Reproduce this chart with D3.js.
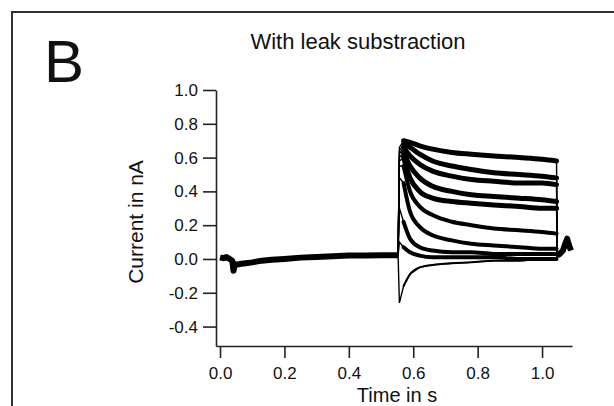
<!DOCTYPE html>
<html>
<head>
<meta charset="utf-8">
<script src="https://cdn.jsdelivr.net/npm/d3@7"></script>
<style>
  body { margin: 0; background: #fff; }
  text { font-family: "Liberation Sans", Arial, sans-serif; fill: #111; }
</style>
</head>
<body>
<div id="plot"></div>
<script>
// tick values
const xTicks = [0, 0.2, 0.4, 0.6, 0.8, 1.0];
const yTicks = [-0.4, -0.2, 0, 0.2, 0.4, 0.6, 0.8, 1.0];

// holding current before the step (time s, current nA)
const baseT = [0, 0.01, 0.02, 0.03, 0.038, 0.042, 0.046, 0.05, 0.06, 0.08, 0.1, 0.13, 0.16, 0.2, 0.25, 0.3, 0.35, 0.4, 0.45, 0.5, 0.553];
const baseI = [0.01, 0.005, 0.012, 0.0, -0.01, -0.07, -0.03, -0.035, -0.03, -0.025, -0.02, -0.01, -0.005, 0.0, 0.008, 0.012, 0.016, 0.02, 0.02, 0.022, 0.022];

// step currents, one array per trace, sampled at stepT
const stepT = [0.557, 0.57, 0.59, 0.62, 0.66, 0.72, 0.78, 0.85, 0.93, 1.0, 1.045];
const trace1 = [0.66, 0.70, 0.69, 0.67, 0.65, 0.63, 0.62, 0.61, 0.60, 0.59, 0.58];
const trace2 = [0.64, 0.68, 0.66, 0.62, 0.58, 0.55, 0.53, 0.51, 0.50, 0.49, 0.48];
const trace3 = [0.62, 0.66, 0.61, 0.56, 0.52, 0.49, 0.47, 0.46, 0.45, 0.45, 0.44];
const trace4 = [0.60, 0.63, 0.55, 0.48, 0.43, 0.40, 0.38, 0.37, 0.36, 0.35, 0.34];
const trace5 = [0.58, 0.60, 0.48, 0.40, 0.36, 0.34, 0.33, 0.32, 0.31, 0.30, 0.30];
const trace6 = [0.55, 0.55, 0.40, 0.31, 0.26, 0.22, 0.20, 0.18, 0.17, 0.16, 0.15];
const trace7 = [0.48, 0.45, 0.28, 0.19, 0.14, 0.11, 0.09, 0.08, 0.07, 0.06, 0.06];
const trace8 = [0.30, 0.22, 0.12, 0.07, 0.05, 0.04, 0.04, 0.03, 0.03, 0.03, 0.03];
const trace9 = [0.10, 0.07, 0.04, 0.02, 0.01, 0.01, 0.01, 0.01, 0.00, 0.00, 0.00];
const trace10 = [-0.26, -0.16, -0.09, -0.05, -0.035, -0.025, -0.02, -0.01, -0.01, 0.00, 0.00];
const traces = [trace1, trace2, trace3, trace4, trace5, trace6, trace7, trace8, trace9, trace10];

// tail after the step
const tailT = [1.047, 1.055, 1.065, 1.072, 1.078, 1.084, 1.09];
const tailI = [0.02, 0.03, 0.05, 0.09, 0.12, 0.08, 0.05];

const svg = d3.select("#plot").append("svg")
  .attr("width", 614)
  .attr("height", 406);

// panel frame
svg.append("rect")
  .attr("x", 12).attr("y", 12)
  .attr("width", 640).attr("height", 440)
  .attr("fill", "none")
  .attr("stroke", "#333")
  .attr("stroke-width", 2);

svg.append("text")
  .attr("x", 44).attr("y", 82)
  .style("font-size", "60px")
  .text("B");

svg.append("text")
  .attr("x", 358).attr("y", 49)
  .attr("text-anchor", "middle")
  .style("font-size", "22px")
  .text("With leak substraction");

const x = d3.scaleLinear().domain([-0.0125, 1.093]).range([216, 572]);
const y = d3.scaleLinear().domain([-0.515, 1.0]).range([346, 90]);

const xAxis = svg.append("g")
  .attr("transform", "translate(0,346)")
  .call(d3.axisBottom(x).tickValues(xTicks).tickSize(12).tickSizeOuter(0)
    .tickPadding(9).tickFormat(d => d.toFixed(1)));

const yAxis = svg.append("g")
  .attr("transform", "translate(216,0)")
  .call(d3.axisLeft(y).tickValues(yTicks).tickSize(13).tickSizeOuter(0)
    .tickPadding(5).tickFormat(d => d.toFixed(1)));

[xAxis, yAxis].forEach(g => {
  g.selectAll("path, line").attr("stroke", "#222").attr("stroke-width", 1.6);
  g.selectAll("text").style("font-size", "17px").attr("fill", "#222")
    .style("font-family", "'Liberation Sans', Arial, sans-serif");
});

svg.append("text")
  .attr("x", 397).attr("y", 402)
  .attr("text-anchor", "middle")
  .style("font-size", "20px")
  .text("Time in s");

svg.append("text")
  .attr("transform", "translate(143,222) rotate(-90)")
  .attr("text-anchor", "middle")
  .style("font-size", "21px")
  .text("Current in nA");

const line = d3.line().x(d => x(d[0])).y(d => y(d[1]));
const smooth = d3.line().x(d => x(d[0])).y(d => y(d[1])).curve(d3.curveMonotoneX);

// baseline before the step
svg.append("path")
  .datum(baseT.map((t, i) => [t, baseI[i]]))
  .attr("d", line)
  .attr("fill", "none").attr("stroke", "#000")
  .attr("stroke-width", 6).attr("stroke-linejoin", "round");

// step traces: thin edges plus thick noisy plateau
traces.forEach((tr, k) => {
  const pts = [[0.553, 0.02]].concat(stepT.map((t, i) => [t, tr[i]])).concat([[1.047, 0.02]]);
  svg.append("path")
    .datum(pts)
    .attr("d", line)
    .attr("fill", "none").attr("stroke", "#000")
    .attr("stroke-width", 1.4);
  svg.append("path")
    .datum(stepT.slice(1).map((t, i) => [t, tr[i + 1]]))
    .attr("d", smooth)
    .attr("fill", "none").attr("stroke", "#000")
    .attr("stroke-width", k === 9 ? 2 : (k < 5 ? 5 : 4))
    .attr("stroke-linecap", "round");
});

svg.append("path")
  .datum(tailT.map((t, i) => [t, tailI[i]]))
  .attr("d", line)
  .attr("fill", "none").attr("stroke", "#000")
  .attr("stroke-width", 6).attr("stroke-linejoin", "round");
</script>
</body>
</html>
